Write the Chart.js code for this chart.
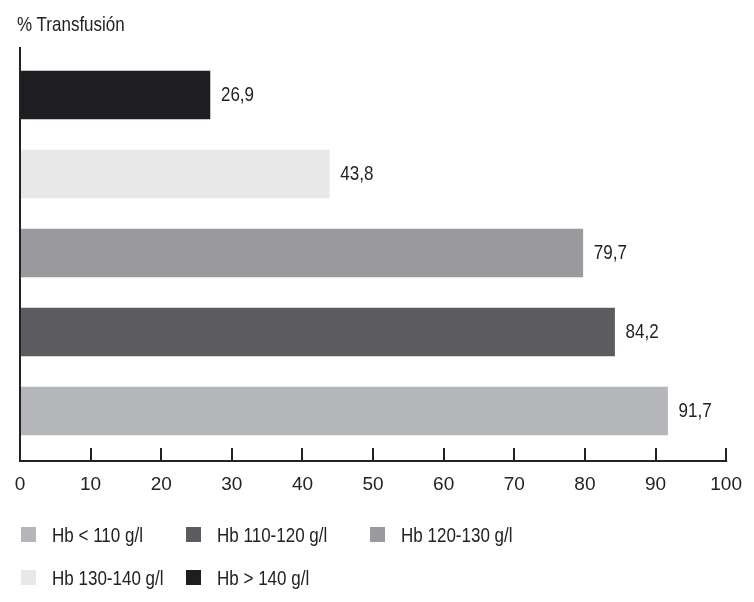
<!DOCTYPE html>
<html>
<head>
<meta charset="utf-8">
<script src="https://cdn.jsdelivr.net/npm/chart.js@4/dist/chart.umd.min.js"></script>
<style>
  html, body { margin: 0; padding: 0; background: #fff; }
  #wrap { position: relative; width: 754px; height: 602px; font-family: 'Liberation Sans', Arial, sans-serif; color: #222; }
  #title { position: absolute; left: 17px; top: 11px; font-size: 21px; line-height: 26px; transform: scaleX(0.81); transform-origin: left center; white-space: nowrap; }
  .leg { position: absolute; display: flex; align-items: center; font-size: 21px; line-height: 24px; white-space: nowrap; }
  .leg span.box { display: inline-block; width: 15px; height: 15px; margin-right: 16px; }
  .leg span.txt { display: inline-block; transform: scaleX(0.81); transform-origin: left center; }
</style>
</head>
<body>
<div id="wrap">
  <canvas id="c"></canvas>
  <div id="title">% Transfusión</div>
  <div id="legend"></div>
</div>
<script>
// Hemoglobin groups, bottom bar first
const categories = ['Hb < 110 g/l', 'Hb 110-120 g/l', 'Hb 120-130 g/l', 'Hb 130-140 g/l', 'Hb > 140 g/l'];
const values = [91.7, 84.2, 79.7, 43.8, 26.9];
const valueLabels = ['91,7', '84,2', '79,7', '43,8', '26,9'];
const colors = ['#b5b6b9', '#5c5b60', '#9a999d', '#e8e8e9', '#1e1d22'];
const xTicks = [0, 10, 20, 30, 40, 50, 60, 70, 80, 90, 100];

const FONT = "'Liberation Sans', Arial, sans-serif";
const INK = '#222222';
const NARROW = 0.81;

const datasets = categories.map((name, i) => ({
  label: name,
  data: [{ x: values[i], y: i }],
  backgroundColor: colors[i],
  borderWidth: 0,
  barThickness: 48,
  grouped: false
}));

// Axis lines, inward tick marks and value labels
const axisPlugin = {
  id: 'axisDecor',
  afterDatasetsDraw(chart) {
    const { ctx, chartArea, scales } = chart;
    const xs = scales.x;
    ctx.save();
    ctx.strokeStyle = INK;
    ctx.lineWidth = 2;
    ctx.beginPath();
    ctx.moveTo(chartArea.left, chartArea.top);
    ctx.lineTo(chartArea.left, chartArea.bottom);
    ctx.lineTo(xs.getPixelForValue(100) + 1, chartArea.bottom);
    ctx.stroke();
    xTicks.forEach(v => {
      if (v === 0) return;
      const px = Math.round(xs.getPixelForValue(v));
      ctx.beginPath();
      ctx.moveTo(px, chartArea.bottom - 13);
      ctx.lineTo(px, chartArea.bottom);
      ctx.stroke();
    });
    ctx.fillStyle = INK;
    ctx.font = '21px ' + FONT;
    ctx.textBaseline = 'middle';
    ctx.textAlign = 'left';
    chart.data.datasets.forEach((ds, i) => {
      const el = chart.getDatasetMeta(i).data[0];
      ctx.save();
      ctx.translate(el.x + 11, el.y + 0.5);
      ctx.scale(NARROW, 1);
      ctx.fillText(valueLabels[i], 0, 0);
      ctx.restore();
    });
    ctx.restore();
  }
};

new Chart(document.getElementById('c'), {
  type: 'bar',
  data: { datasets },
  options: {
    indexAxis: 'y',
    responsive: true,
    maintainAspectRatio: false,
    animation: false,
    layout: { padding: { top: 47, left: 20, right: 19, bottom: 101 } },
    plugins: { legend: { display: false }, tooltip: { enabled: false }, title: { display: false } },
    scales: {
      y: { type: 'linear', display: false, offset: false, min: -0.633, max: 4.608 },
      x: {
        type: 'linear', min: 0, max: 100, offset: false,
        grid: { display: false, drawTicks: false },
        border: { display: false },
        afterBuildTicks(scale) { scale.ticks = xTicks.map(v => ({ value: v })); },
        afterFit(scale) { scale.height = 40; },
        ticks: { padding: 12, color: INK, font: { family: FONT, size: 19 }, maxRotation: 0, autoSkip: false }
      }
    }
  },
  plugins: [axisPlugin]
});

// Legend laid out in a fixed grid of columns
const legendPos = [[21, 534.5], [186, 534.5], [370, 534.5], [21, 577.5], [186, 577.5]];
const legend = document.getElementById('legend');
categories.forEach((name, i) => {
  const item = document.createElement('div');
  item.className = 'leg';
  item.style.left = legendPos[i][0] + 'px';
  item.style.top = (legendPos[i][1] - 12) + 'px';
  const box = document.createElement('span');
  box.className = 'box';
  box.style.background = colors[i];
  const txt = document.createElement('span');
  txt.className = 'txt';
  txt.textContent = name;
  item.appendChild(box);
  item.appendChild(txt);
  legend.appendChild(item);
});
</script>
</body>
</html>
